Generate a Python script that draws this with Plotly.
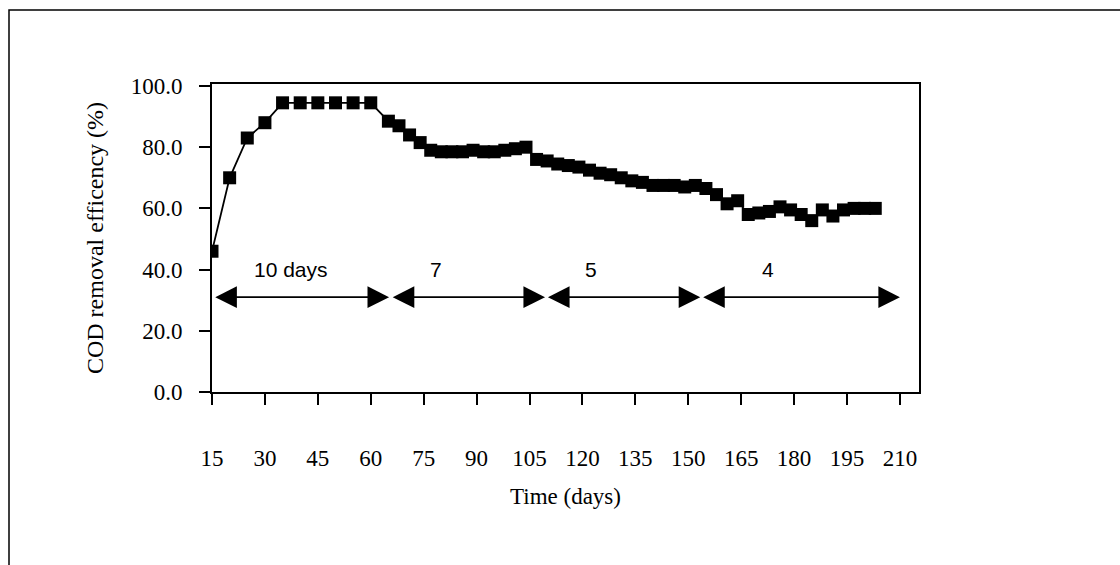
import plotly.graph_objects as go

# ---- data ----
days = [15, 20, 25, 30, 35, 40, 45, 50, 55, 60,
        65, 68, 71, 74, 77, 80, 83, 86, 89, 92, 95, 98, 101, 104,
        107, 110, 113, 116, 119, 122, 125, 128, 131, 134, 137, 140, 143, 146, 149, 152,
        155, 158, 161, 164, 167, 170, 173, 176, 179, 182, 185, 188, 191, 194, 197, 200, 203]
cod_removal = [46.0, 70.0, 83.0, 88.0, 94.5, 94.5, 94.5, 94.5, 94.5, 94.5,
               88.5, 87.0, 84.0, 81.5, 79.0, 78.5, 78.5, 78.5, 79.0, 78.5, 78.5, 79.0, 79.5, 80.0,
               76.0, 75.5, 74.5, 74.0, 73.5, 72.5, 71.5, 71.0, 70.0, 69.0, 68.5, 67.5, 67.5, 67.5, 67.0, 67.5,
               66.5, 64.5, 61.5, 62.5, 58.0, 58.5, 59.0, 60.5, 59.5, 58.0, 56.0, 59.5, 57.5, 59.5, 60.0, 60.0, 60.0]

x_ticks = [15, 30, 45, 60, 75, 90, 105, 120, 135, 150, 165, 180, 195, 210]
y_ticks = [0, 20, 40, 60, 80, 100]

# HRT periods (arrows) and their labels
period_start = [15.5, 65.8, 109.8, 153.8]
period_end = [65.2, 109.4, 153.4, 210.0]
period_labels = ["10 days", "7", "5", "4"]
label_x = [37.5, 78.5, 122.5, 172.5]
arrow_level = 31.0
label_level = 40.0

W, H = 1120, 565
ML, MR, MT, MB = 212, 201, 84, 173

serif = "Liberation Serif"
sans = "Liberation Sans"

fig = go.Figure()
fig.add_trace(go.Scatter(
    x=days, y=cod_removal, mode="lines+markers",
    line=dict(color="black", width=1.8),
    marker=dict(symbol="square", size=13, color="black"),
    showlegend=False, hoverinfo="x+y",
))

for x0, x1 in zip(period_start, period_end):
    fig.add_annotation(
        x=x1, y=arrow_level, ax=x0, ay=arrow_level,
        xref="x", yref="y", axref="x", ayref="y",
        text="", showarrow=True, arrowside="end+start",
        arrowhead=2, startarrowhead=2,
        arrowsize=2.7, startarrowsize=2.7, arrowwidth=1.6,
        arrowcolor="black",
    )

for lx, lab in zip(label_x, period_labels):
    fig.add_annotation(
        x=lx, y=label_level, xref="x", yref="y", text=lab,
        showarrow=False, font=dict(family=sans, size=21, color="black"),
    )

# outer frame (left and top edges visible)
pw = W - ML - MR
ph = H - MT - MB
fig.add_shape(
    type="rect", xref="paper", yref="paper",
    x0=(9 - ML) / pw, x1=(W + 20 - ML) / pw,
    y0=-(H + 20 - (H - MB)) / ph, y1=((H - MB) - 10) / ph,
    line=dict(color="black", width=1.5), fillcolor="rgba(0,0,0,0)", layer="above",
)

fig.update_layout(
    width=W, height=H,
    margin=dict(l=ML, r=MR, t=MT, b=MB),
    paper_bgcolor="white", plot_bgcolor="white",
    font=dict(family=serif, size=23, color="black"),
)
fig.update_xaxes(
    range=[15, 215.4], tickvals=x_ticks, ticktext=[str(v) for v in x_ticks],
    ticks="outside", ticklen=11, tickwidth=1.5, tickcolor="black",
    showline=True, linecolor="black", linewidth=2, mirror=True,
    showgrid=False, zeroline=False,
    ticklabelstandoff=33,
    title=dict(text="Time (days)", font=dict(family=serif, size=23), standoff=18),
    tickfont=dict(family=serif, size=23),
)
fig.update_yaxes(
    range=[0, 100.65], tickvals=y_ticks, tickformat=".1f",
    ticks="outside", ticklen=11, tickwidth=1.5, tickcolor="black",
    showline=True, linecolor="black", linewidth=2, mirror=True,
    showgrid=False, zeroline=False,
    ticklabelstandoff=12,
    title=dict(text="COD removal efficency (%)", font=dict(family=serif, size=24), standoff=20),
    tickfont=dict(family=serif, size=23),
)

fig.write_html("out.html")
